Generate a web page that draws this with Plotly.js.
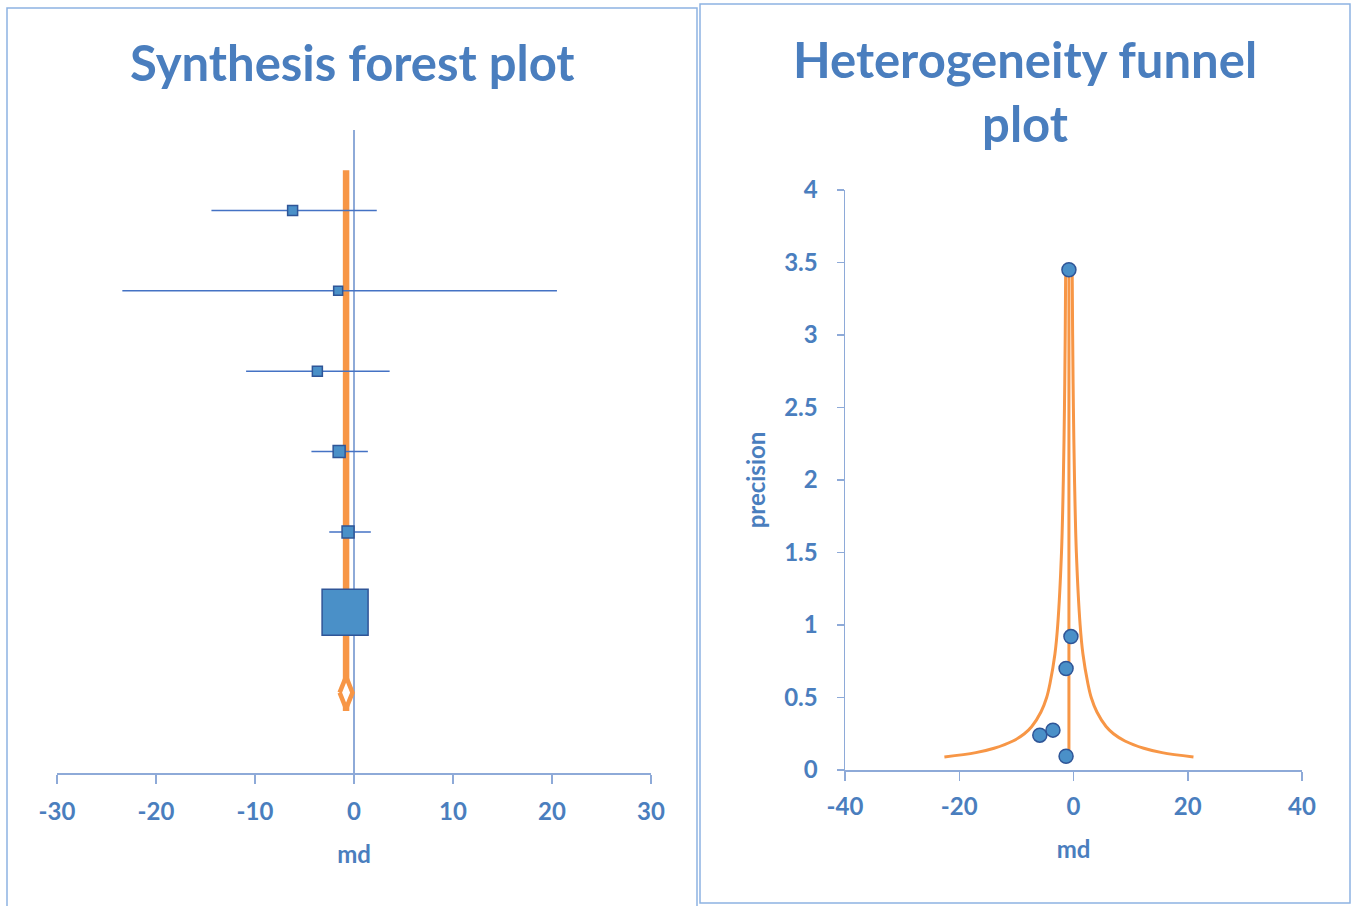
<!DOCTYPE html>
<html>
<head>
<meta charset="utf-8">
<script src="https://cdn.plot.ly/plotly-3.0.1.min.js"></script>
<style>html,body{margin:0;padding:0;background:#fff;}#chart{width:1357px;height:906px;}</style>
</head>
<body>
<div id="chart"></div>
<script>
// ---- Data ----
const forestMd    = [-6.2, -1.6, -3.7, -1.5, -0.6, -0.9];
const forestLower = [-14.4, -23.4, -10.9, -4.3, -2.5, -1.5];
const forestUpper = [2.3, 20.5, 3.6, 1.4, 1.7, -0.3];
const pooledMd = -0.8;
const pooledLower = -1.45;
const pooledUpper = -0.15;

const funnelMd        = [-0.8, -0.45, -1.3, -5.9, -3.6, -1.3];
const funnelPrecision = [3.45, 0.92, 0.70, 0.24, 0.275, 0.095];

const curvePrecision = [0.09, 0.12, 0.15, 0.2, 0.25, 0.3, 0.4, 0.5, 0.6, 0.8, 1.0, 1.5, 2.0, 2.5, 3.0, 3.45];
const curveLeft      = [-22.6, -17.1, -13.9, -10.6, -8.6, -7.3, -5.7, -4.7, -4.1, -3.25, -2.76, -2.1, -1.78, -1.58, -1.45, -1.37];
const curveRight     = [21.0, 15.5, 12.3, 9.0, 7.0, 5.7, 4.1, 3.1, 2.5, 1.65, 1.16, 0.5, 0.18, -0.02, -0.15, -0.23];

const forestTicks     = [-30, -20, -10, 0, 10, 20, 30];
const forestTickText  = ['-30', '-20', '-10', '0', '10', '20', '30'];
const funnelXTicks    = [-40, -20, 0, 20, 40];
const funnelXTickText = ['-40', '-20', '0', '20', '40'];
const funnelYTicks    = [0, 0.5, 1, 1.5, 2, 2.5, 3, 3.5, 4];
const funnelYTickText = ['0', '0.5', '1', '1.5', '2', '2.5', '3', '3.5', '4'];

// ---- Styles ----
const markerSizes = [10, 9, 10, 12, 12, 46];
const TEXT = '#4a7ebe';
const AXIS = '#8eaad8';
const ORANGE = '#f79646';
const FILL = '#4a90c8';
const EDGE = '#2f5597';
const FONT = 'Lato, "Open Sans", sans-serif';
const W = 1357, H = 906;
const px = v => v / W;
const py = v => 1 - v / H;

const n = forestMd.length;
const rows = forestMd.map((_, i) => n + 1 - i);
const diamondY = 1, diamondH = 0.2;

const traces = [
  { // pooled vertical line
    x: [pooledMd, pooledMd], y: [n + 1.5, diamondY - diamondH - 0.03],
    mode: 'lines', line: {color: ORANGE, width: 6.5},
    xaxis: 'x', yaxis: 'y', hoverinfo: 'skip', showlegend: false
  },
  { // diamond
    x: [pooledLower, pooledMd, pooledUpper, pooledMd, pooledLower],
    y: [diamondY, diamondY + diamondH, diamondY, diamondY - diamondH, diamondY],
    mode: 'lines', fill: 'toself', fillcolor: '#ffffff',
    line: {color: ORANGE, width: 4.5}, xaxis: 'x', yaxis: 'y', showlegend: false
  },
  { // studies
    x: forestMd, y: rows, mode: 'markers', type: 'scatter',
    marker: {symbol: 'square', size: markerSizes, opacity: 1, color: FILL, line: {color: EDGE, width: 1.5}},
    error_x: {type: 'data', symmetric: false,
      array: forestUpper.map((u, i) => u - forestMd[i]),
      arrayminus: forestLower.map((l, i) => forestMd[i] - l),
      color: '#4472c4', thickness: 1.5, width: 0},
    xaxis: 'x', yaxis: 'y', showlegend: false
  },
  { // funnel left
    x: curveLeft, y: curvePrecision, mode: 'lines', line: {color: ORANGE, width: 3, shape: 'spline'},
    xaxis: 'x2', yaxis: 'y2', showlegend: false
  },
  { // funnel right
    x: curveRight, y: curvePrecision, mode: 'lines', line: {color: ORANGE, width: 3, shape: 'spline'},
    xaxis: 'x2', yaxis: 'y2', showlegend: false
  },
  { // center line
    x: [pooledMd, pooledMd], y: [curvePrecision[0], curvePrecision[curvePrecision.length - 1]],
    mode: 'lines', line: {color: ORANGE, width: 3},
    xaxis: 'x2', yaxis: 'y2', showlegend: false
  },
  { // study points
    x: funnelMd, y: funnelPrecision, mode: 'markers',
    marker: {symbol: 'circle', size: 14, opacity: 1, color: FILL, line: {color: EDGE, width: 1.5}},
    xaxis: 'x2', yaxis: 'y2', showlegend: false
  }
];

const tickFont = {family: FONT, size: 24, color: TEXT, weight: 'bold'};
const titleFont = {family: FONT, size: 24, color: TEXT, weight: 'bold'};

const layout = {
  width: W, height: H,
  margin: {l: 0, r: 0, t: 0, b: 0},
  paper_bgcolor: '#ffffff', plot_bgcolor: 'rgba(0,0,0,0)',
  showlegend: false,
  font: {family: FONT, color: TEXT},
  xaxis: {
    domain: [px(57), px(651)], range: [-30, 30], tickvals: forestTicks, ticktext: forestTickText,
    showgrid: false, showline: true, linecolor: AXIS, linewidth: 1.5,
    ticks: 'outside', ticklen: 9, tickcolor: AXIS, tickwidth: 1.5, ticklabelstandoff: 8,
    zeroline: true, zerolinecolor: AXIS, zerolinewidth: 1.5,
    tickfont: tickFont, anchor: 'y',
    title: {text: 'md', font: titleFont, standoff: 22}
  },
  yaxis: {
    domain: [py(773), py(130)], range: [0, 8], visible: false, anchor: 'x'
  },
  xaxis2: {
    domain: [px(845), px(1302)], range: [-40, 40], tickvals: funnelXTicks, ticktext: funnelXTickText,
    showgrid: false, showline: true, linecolor: AXIS, linewidth: 1.5,
    ticks: 'outside', ticklen: 9, tickcolor: AXIS, tickwidth: 1.5, ticklabelstandoff: 6,
    zeroline: false, tickfont: tickFont, anchor: 'y2',
    title: {text: 'md', font: titleFont, standoff: 22}
  },
  yaxis2: {
    domain: [py(770), py(190)], range: [0, 4], tickvals: funnelYTicks, ticktext: funnelYTickText,
    showgrid: false, showline: true, linecolor: AXIS, linewidth: 1.5,
    ticks: 'outside', ticklen: 7, tickcolor: AXIS, tickwidth: 1.5, ticklabelstandoff: 14,
    zeroline: false, tickfont: tickFont, anchor: 'x2',
    title: {text: 'precision', font: titleFont, standoff: 12}
  },
  shapes: [
    {type: 'rect', xref: 'paper', yref: 'paper', x0: px(7), x1: px(697), y0: py(910), y1: py(8),
     line: {color: '#8db3e2', width: 1.5}},
    {type: 'rect', xref: 'paper', yref: 'paper', x0: px(700), x1: px(1350), y0: py(903), y1: py(4),
     line: {color: '#8db3e2', width: 1.5}}
  ],
  annotations: [
    {text: 'Synthesis forest plot', xref: 'paper', yref: 'paper', x: px(352), y: py(62),
     xanchor: 'center', yanchor: 'middle', showarrow: false,
     font: {family: FONT, size: 49, color: TEXT, weight: 'bold'}},
    {text: 'Heterogeneity funnel<br>plot', xref: 'paper', yref: 'paper', x: px(1025), y: py(91),
     xanchor: 'center', yanchor: 'middle', showarrow: false, align: 'center',
     font: {family: FONT, size: 49, color: TEXT, weight: 'bold'}}
  ]
};

Plotly.newPlot('chart', traces, layout, {displayModeBar: false, staticPlot: true});
</script>
</body>
</html>
